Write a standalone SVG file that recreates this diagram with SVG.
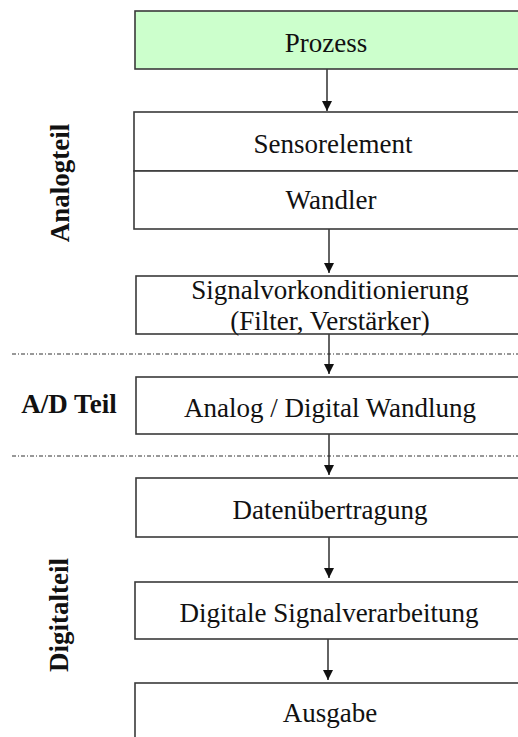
<svg xmlns="http://www.w3.org/2000/svg" width="518" height="737" viewBox="0 0 518 737">
<style>
.box{fill:#ffffff;stroke:#3a3a3a;stroke-width:1.6}
.green{fill:#ccffcc}
.t{font-family:"Liberation Serif","Times New Roman",serif;font-size:27px;fill:#111;text-anchor:middle}
.lbl{font-family:"Liberation Serif","Times New Roman",serif;font-size:27px;font-weight:bold;fill:#111;text-anchor:middle}
.sep{stroke:#777777;stroke-width:1.5;stroke-dasharray:4 2 1 2;fill:none}
.arr{stroke:#222;stroke-width:1.4;fill:none;marker-end:url(#ah)}
</style>
<defs>
<marker id="ah" markerWidth="10" markerHeight="10" refX="10" refY="5" orient="auto" markerUnits="userSpaceOnUse">
<path d="M0,0 L10,5 L0,10 Z" fill="#111"/>
</marker>
</defs>
<rect width="518" height="737" fill="#ffffff"/>
<g id="separators">
<line class="sep" x1="12" y1="354" x2="518" y2="354"/>
<line class="sep" x1="12" y1="456" x2="518" y2="456"/>
</g>
<g id="connectors">
<line class="arr" x1="327" y1="69" x2="327" y2="111"/>
<line class="arr" x1="329" y1="229" x2="329" y2="273"/>
<line class="arr" x1="329" y1="334" x2="329" y2="374"/>
<line class="arr" x1="329" y1="434" x2="329" y2="475"/>
<line class="arr" x1="329" y1="537" x2="329" y2="578"/>
<line class="arr" x1="328" y1="639" x2="328" y2="680"/>
</g>
<g id="prozess">
<rect class="box green" x="135" y="11" width="400" height="58"/>
<text class="t" x="326" y="52">Prozess</text>
</g>
<g id="sensorelement">
<rect class="box" x="134" y="112" width="400" height="59"/>
<text class="t" x="333" y="153">Sensorelement</text>
</g>
<g id="wandler">
<rect class="box" x="134" y="171" width="400" height="58"/>
<text class="t" x="331" y="209">Wandler</text>
</g>
<g id="signalvorkonditionierung">
<rect class="box" x="136" y="276" width="400" height="58"/>
<text class="t" x="330" y="299">Signalvorkonditionierung</text>
<text class="t" x="330" y="330">(Filter, Verstärker)</text>
</g>
<g id="ad-wandlung">
<rect class="box" x="136" y="377" width="400" height="57"/>
<text class="t" x="330" y="417">Analog / Digital Wandlung</text>
</g>
<g id="datenuebertragung">
<rect class="box" x="136" y="478" width="400" height="59"/>
<text class="t" x="330" y="519">Datenübertragung</text>
</g>
<g id="signalverarbeitung">
<rect class="box" x="135" y="582" width="400" height="57"/>
<text class="t" x="329" y="622">Digitale Signalverarbeitung</text>
</g>
<g id="ausgabe">
<rect class="box" x="135" y="683" width="400" height="60"/>
<text class="t" x="330" y="722">Ausgabe</text>
</g>
<g id="labels">
<text class="lbl" transform="translate(69,183) rotate(-90)">Analogteil</text>
<text class="lbl" x="69" y="413">A/D Teil</text>
<text class="lbl" transform="translate(68,615) rotate(-90)">Digitalteil</text>
</g>
</svg>
